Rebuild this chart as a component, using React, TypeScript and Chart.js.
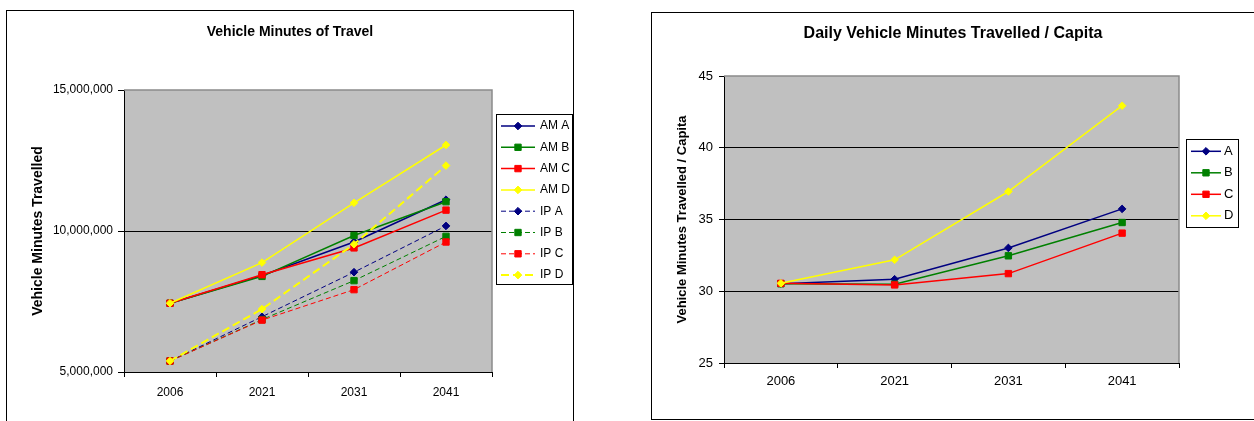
import React, { useEffect, useRef } from 'react';
import { Chart, registerables } from 'chart.js';

Chart.register(...registerables);

// ---------- data ----------
const categories = ['2006', '2021', '2031', '2041'];

// Vehicle Minutes of Travel
const amA = [7440000, 8420000, 9610000, 11110000];
const amB = [7440000, 8390000, 9840000, 11040000];
const amC = [7440000, 8450000, 9400000, 10740000];
const amD = [7440000, 8880000, 11000000, 13050000];
const ipA = [5390000, 6960000, 8540000, 10180000];
const ipB = [5390000, 6860000, 8240000, 9810000];
const ipC = [5390000, 6840000, 7920000, 9610000];
const ipD = [5390000, 7230000, 9530000, 12320000];
const leftTicks = [5000000, 10000000, 15000000];

// Daily Vehicle Minutes Travelled / Capita
const capA = [30.53, 30.84, 33.02, 35.74];
const capB = [30.52, 30.49, 32.47, 34.79];
const capC = [30.55, 30.44, 31.23, 34.05];
const capD = [30.55, 32.19, 36.95, 42.93];
const rightTicks = [25, 30, 35, 40, 45];

// ---------- styling ----------
const FONT = '"Liberation Sans", Arial, sans-serif';
Chart.defaults.font.family = FONT;
Chart.defaults.color = '#000';

const NAVY = '#000080';
const GREEN = '#008000';
const RED = '#FF0000';
const YELLOW = '#FFFF00';

function series(label: string, data: number[], color: string, style: string, width: number, dash: number[], order: number) {
  return {
    label,
    data,
    borderColor: color,
    backgroundColor: color,
    pointBackgroundColor: color,
    pointBorderColor: color,
    pointStyle: style,
    pointRadius: style === 'rect' ? 4.5 : 3.8,
    pointBorderWidth: 1,
    borderWidth: width,
    borderDash: dash,
    tension: 0,
    fill: false,
    order,
  };
}

function drawMarker(ctx: CanvasRenderingContext2D, style: string, x: number, y: number, r: number, color: string) {
  ctx.save();
  ctx.setLineDash([]);
  ctx.fillStyle = color;
  ctx.strokeStyle = color;
  ctx.lineWidth = 1;
  ctx.beginPath();
  if (style === 'rect') {
    const s = r * Math.SQRT1_2;
    ctx.rect(x - s, y - s, 2 * s, 2 * s);
  } else {
    ctx.moveTo(x, y - r);
    ctx.lineTo(x + r, y);
    ctx.lineTo(x, y + r);
    ctx.lineTo(x - r, y);
    ctx.closePath();
  }
  ctx.fill();
  ctx.stroke();
  ctx.restore();
}

const plotArea = {
  id: 'plotArea',
  beforeDraw(chart: any) {
    const { ctx, chartArea } = chart;
    const { left, top, right, bottom } = chartArea;
    ctx.save();
    ctx.fillStyle = '#C0C0C0';
    ctx.fillRect(left, top, right - left, bottom - top);
    ctx.restore();
  },
  beforeDatasetsDraw(chart: any) {
    const { ctx, chartArea } = chart;
    const { left, top, right, bottom } = chartArea;
    ctx.save();
    ctx.strokeStyle = '#8A8A8A';
    ctx.lineWidth = 1.5;
    ctx.beginPath();
    ctx.moveTo(left, top);
    ctx.lineTo(right, top);
    ctx.lineTo(right, bottom);
    ctx.stroke();
    ctx.restore();
  },
};

const boxLegend = {
  id: 'boxLegend',
  afterDraw(chart: any, _args: any, opts: any) {
    const { ctx } = chart;
    const { x, y, w, h, first, step, lineX1, lineX2, textX, fontSize } = opts;
    if (w === undefined) return;
    ctx.save();
    ctx.fillStyle = '#FFFFFF';
    ctx.fillRect(x, y, w, h);
    ctx.strokeStyle = '#000';
    ctx.lineWidth = 1;
    ctx.strokeRect(x + 0.5, y + 0.5, w - 1, h - 1);
    chart.data.datasets.forEach((ds: any, i: number) => {
      const cy = y + first + i * step;
      ctx.strokeStyle = ds.borderColor;
      ctx.lineWidth = ds.borderWidth;
      ctx.setLineDash(ds.borderDash || []);
      ctx.beginPath();
      ctx.moveTo(x + lineX1, cy);
      ctx.lineTo(x + lineX2, cy);
      ctx.stroke();
      ctx.setLineDash([]);
      drawMarker(ctx, ds.pointStyle, x + (lineX1 + lineX2) / 2, cy, ds.pointRadius, ds.pointBackgroundColor);
      ctx.fillStyle = '#000';
      ctx.font = `${fontSize}px ${FONT}`;
      ctx.textBaseline = 'middle';
      ctx.textAlign = 'left';
      ctx.fillText(ds.label, x + textX, cy);
    });
    ctx.restore();
  },
};

function makeLeft(): any {
  const n = 8;
  const datasets = [
    series('AM A', amA, NAVY, 'rectRot', 1.5, [], n - 0),
    series('AM B', amB, GREEN, 'rect', 1.5, [], n - 1),
    series('AM C', amC, RED, 'rect', 1.5, [], n - 2),
    series('AM D', amD, YELLOW, 'rectRot', 1.5, [], n - 3),
    series('IP A', ipA, NAVY, 'rectRot', 1, [5, 3], n - 4),
    series('IP B', ipB, GREEN, 'rect', 1, [5, 3], n - 5),
    series('IP C', ipC, RED, 'rect', 1, [5, 3], n - 6),
    series('IP D', ipD, YELLOW, 'rectRot', 2, [8, 4], n - 7),
  ];
  return {
    type: 'line',
    data: { labels: categories, datasets },
    plugins: [plotArea, boxLegend],
    options: {
      responsive: false,
      animation: false,
      events: [],
      devicePixelRatio: 1,
      layout: { padding: { left: 0, right: 0, top: 0, bottom: 9 } },
      plugins: {
        legend: { display: false },
        tooltip: { enabled: false },
        title: {
          display: true,
          text: 'Vehicle Minutes of Travel',
          color: '#000',
          font: { size: 14, weight: 'bold', family: FONT },
          padding: { top: 12.9, bottom: 49.3 },
        },
        boxLegend: { x: 489, y: 103, w: 77, h: 171, first: 12, step: 21.3, lineX1: 5, lineX2: 39, textX: 44, fontSize: 12 },
      },
      scales: {
        x: {
          type: 'category',
          offset: true,
          grid: { offset: true, drawOnChartArea: false, drawTicks: true, tickLength: 5, color: '#000' },
          border: { color: '#000', width: 1 },
          ticks: { color: '#000', font: { size: 12 }, padding: 8, maxRotation: 0, autoSkip: false },
          afterFit: (s: any) => { s.height = 40; },
        },
        y: {
          type: 'linear',
          min: leftTicks[0],
          max: leftTicks[leftTicks.length - 1],
          afterBuildTicks: (s: any) => { s.ticks = leftTicks.map((v) => ({ value: v })); },
          grid: {
            color: (c: any) => (c.tick && c.tick.value === leftTicks[leftTicks.length - 1] ? 'rgba(0,0,0,0)' : '#000'),
            tickColor: '#000',
            tickLength: 6,
            lineWidth: 1,
          },
          border: { color: '#000', width: 1 },
          ticks: { color: '#000', font: { size: 12 }, padding: 5, callback: (v: any) => Number(v).toLocaleString('en-US') },
          title: {
            display: true,
            text: 'Vehicle Minutes Travelled',
            color: '#000',
            font: { size: 14, weight: 'bold' },
            padding: { top: 22.6, bottom: 0 },
          },
          afterFit: (s: any) => { s.width = 117; },
        },
        yR: {
          type: 'linear',
          position: 'right',
          display: true,
          grid: { display: false, drawTicks: false },
          border: { display: false },
          ticks: { display: false },
          afterFit: (s: any) => { s.width = 81; },
        },
      },
    },
  };
}

function makeRight(): any {
  const n = 4;
  const datasets = [
    series('A', capA, NAVY, 'rectRot', 1.5, [], n - 0),
    series('B', capB, GREEN, 'rect', 1.5, [], n - 1),
    series('C', capC, RED, 'rect', 1.5, [], n - 2),
    series('D', capD, YELLOW, 'rectRot', 1.5, [], n - 3),
  ];
  return {
    type: 'line',
    data: { labels: categories, datasets },
    plugins: [plotArea, boxLegend],
    options: {
      responsive: false,
      animation: false,
      events: [],
      devicePixelRatio: 1,
      layout: { padding: { left: 0, right: 0, top: 0, bottom: 16 } },
      plugins: {
        legend: { display: false },
        tooltip: { enabled: false },
        title: {
          display: true,
          text: 'Daily Vehicle Minutes Travelled / Capita',
          color: '#000',
          font: { size: 16, weight: 'bold', family: FONT },
          padding: { top: 10.7, bottom: 33.1 },
        },
        boxLegend: { x: 534, y: 126, w: 53, h: 89, first: 12.3, step: 21.5, lineX1: 5, lineX2: 35, textX: 38, fontSize: 13 },
      },
      scales: {
        x: {
          type: 'category',
          offset: true,
          grid: { offset: true, drawOnChartArea: false, drawTicks: true, tickLength: 5, color: '#000' },
          border: { color: '#000', width: 1 },
          ticks: { color: '#000', font: { size: 13 }, padding: 6, maxRotation: 0, autoSkip: false },
          afterFit: (s: any) => { s.height = 40; },
        },
        y: {
          type: 'linear',
          min: rightTicks[0],
          max: rightTicks[rightTicks.length - 1],
          afterBuildTicks: (s: any) => { s.ticks = rightTicks.map((v) => ({ value: v })); },
          grid: {
            color: (c: any) => (c.tick && c.tick.value === rightTicks[rightTicks.length - 1] ? 'rgba(0,0,0,0)' : '#000'),
            tickColor: '#000',
            tickLength: 5,
            lineWidth: 1,
          },
          border: { color: '#000', width: 1 },
          ticks: { color: '#000', font: { size: 13 }, padding: 6 },
          title: {
            display: true,
            text: 'Vehicle Minutes Travelled / Capita',
            color: '#000',
            font: { size: 13, weight: 'bold' },
            padding: { top: 23, bottom: 0 },
          },
          afterFit: (s: any) => { s.width = 72; },
        },
        yR: {
          type: 'linear',
          position: 'right',
          display: true,
          grid: { display: false, drawTicks: false },
          border: { display: false },
          ticks: { display: false },
          afterFit: (s: any) => { s.width = 75; },
        },
      },
    },
  };
}

function ChartCanvas({ make, width, height }: { make: () => any; width: number; height: number }) {
  const ref = useRef<HTMLCanvasElement | null>(null);
  useEffect(() => {
    if (!ref.current) return;
    const chart = new Chart(ref.current, make());
    return () => chart.destroy();
  }, []);
  return (
    <canvas
      ref={ref}
      width={width}
      height={height}
      style={{ position: 'absolute', left: 0, top: 0, width, height, display: 'block' }}
    />
  );
}

export default function App() {
  return (
    <div style={{ position: 'absolute', left: 0, top: 0, width: 1254, height: 421, overflow: 'hidden', background: '#fff' }}>
      <div
        style={{
          position: 'absolute', left: 6, top: 10, width: 568, height: 440,
          border: '1px solid #000', boxSizing: 'border-box', background: '#fff',
        }}
      >
        <ChartCanvas make={makeLeft} width={566} height={410} />
      </div>
      <div
        style={{
          position: 'absolute', left: 651, top: 12, width: 720, height: 408,
          border: '1px solid #000', boxSizing: 'border-box', background: '#fff',
        }}
      >
        <ChartCanvas make={makeRight} width={602} height={406} />
      </div>
    </div>
  );
}
